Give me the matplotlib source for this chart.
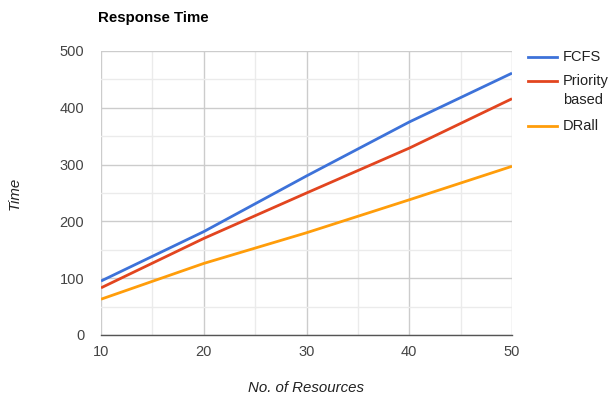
import matplotlib
matplotlib.use("Agg")
import matplotlib.pyplot as plt
from matplotlib.lines import Line2D
from matplotlib.ticker import MultipleLocator

plt.rcParams['font.family'] = ['Liberation Sans', 'DejaVu Sans']

resources = [10, 20, 30, 40, 50]
fcfs = [95, 182, 280, 375, 461]
priority = [83, 170, 250, 329, 416]
drall = [63, 126, 180, 238, 297]
series_names = ['FCFS', 'Priority\nbased', 'DRall']
colors = ['#3d72d9', '#e2451f', '#ff9d0a']

W, H = 611, 398
fig = plt.figure(figsize=(W/100, H/100), dpi=100)
ax = fig.add_axes([101/W, 1-335/H, (512-101)/W, (335-51)/H])

for vals, name, c in zip([fcfs, priority, drall], series_names, colors):
    ax.plot(resources, vals, color=c, lw=2, label=name, solid_capstyle='butt')

ax.set_xlim(10, 50)
ax.set_ylim(0, 500)
ax.xaxis.set_major_locator(MultipleLocator(10))
ax.xaxis.set_minor_locator(MultipleLocator(5))
ax.yaxis.set_major_locator(MultipleLocator(100))
ax.yaxis.set_minor_locator(MultipleLocator(50))
ax.grid(which='major', color='#cccccc', lw=1)
ax.grid(which='minor', color='#ebebeb', lw=1)
ax.set_axisbelow(True)
for s in ['top', 'right', 'left']:
    ax.spines[s].set_visible(False)
ax.spines['bottom'].set_color('#555555')
ax.spines['bottom'].set_linewidth(1)
ax.tick_params(which='both', length=0, labelsize=10.5, colors='#444444')
ax.tick_params(axis='x', pad=7)
ax.tick_params(axis='y', pad=12)

fig.text(98/W, 1-18/H, 'Response Time', fontsize=10.8, fontweight='bold', color='#000000', va='center', ha='left')
fig.text(15/W, 1-193/H, 'Time', fontsize=10.8, style='italic', color='#222222', rotation=90, va='center', ha='center')
fig.text(306/W, 1-388/H, 'No. of Resources', fontsize=10.8, style='italic', color='#222222', va='center', ha='center')

# legend, drawn manually for Google-Charts-like spacing
leg_y = [57, 81, 126]
for name, c, y in zip(series_names, colors, leg_y):
    fig.add_artist(Line2D([528/W, 557/W], [1-y/H, 1-y/H], color=c, lw=2, transform=fig.transFigure))
    fig.text(563/W, 1-(y-7)/H, name, fontsize=10.5, color='#222222', va='top', ha='left', linespacing=1.45)

fig.savefig('out.png', dpi=100)
